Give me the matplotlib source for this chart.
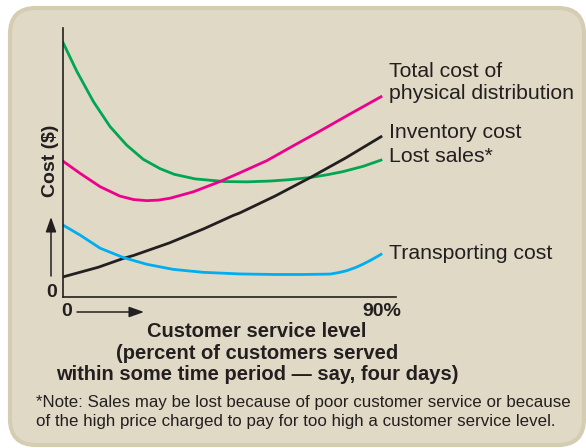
import matplotlib
matplotlib.use('Agg')
import matplotlib.pyplot as plt
from matplotlib.patches import FancyBboxPatch, FancyArrowPatch

plt.rcParams['font.family'] = ['Liberation Sans', 'DejaVu Sans']

# customer service level (%) and cost values
lost_x = [0, 3.9, 8.6, 13.3, 18.0, 22.7, 27.5, 31.5, 37.4, 45.8, 52, 58.6, 64, 69.9, 75, 79.2, 85, 90]
lost_y = [94.6, 83.9, 72.6, 63.3, 56.4, 51.1, 47.6, 45.5, 43.8, 42.8, 42.7, 43.0, 43.5, 44.3, 45.4, 46.5, 48.5, 50.8]

total_x = [0, 4.8, 10.5, 16.1, 20, 23.7, 27, 30.3, 36.9, 44.4, 50.1, 57.7, 65, 72.7, 81, 90]
total_y = [50.4, 45.9, 40.9, 37.4, 36.1, 35.7, 35.9, 36.6, 39.0, 42.8, 46.1, 50.6, 56.0, 61.6, 67.8, 74.4]

inv_x = [0, 10, 17.1, 20, 30, 40, 48.2, 50, 60, 70, 80, 90]
inv_y = [7.3, 10.9, 14.2, 15.3, 19.9, 25.3, 30.2, 31.1, 37.4, 44.3, 51.6, 59.5]

trans_x = [0, 4.8, 10.5, 17.1, 23.7, 31.2, 39.7, 50.1, 60, 68, 75.6, 78, 80.3, 83, 85, 87.5, 90]
trans_y = [26.6, 22.9, 18.0, 14.5, 12.0, 10.1, 9.0, 8.4, 8.2, 8.2, 8.35, 8.9, 9.6, 10.9, 12.1, 13.8, 15.7]

fig = plt.figure(figsize=(5.86, 4.48), dpi=100)
W, H = 586, 448

panel = FancyBboxPatch((0.10, 0.03), 5.74, 4.37,
                       boxstyle='round,pad=0,rounding_size=0.26',
                       transform=fig.dpi_scale_trans,
                       facecolor='#e0d9c6', edgecolor='#d5cdb3',
                       linewidth=3.0, zorder=-10)
fig.patches.append(panel)

ax = fig.add_axes([63 / W, 1 - 296.5 / H, 333 / W, 268.5 / H])
ax.patch.set_visible(False)

lw = 2.0
ax.plot(lost_x, lost_y, color='#00a651', lw=lw, solid_joinstyle='round')
ax.plot(total_x, total_y, color='#ec008c', lw=lw, solid_joinstyle='round')
ax.plot(inv_x, inv_y, color='#231f20', lw=lw, solid_joinstyle='round')
ax.plot(trans_x, trans_y, color='#00aeef', lw=lw, solid_joinstyle='round')

ax.set_xlim(0, 94.25)
ax.set_ylim(0, 100)
ax.set_xticks([])
ax.set_yticks([])
for s in ['top', 'right']:
    ax.spines[s].set_visible(False)
for s in ['left', 'bottom']:
    ax.spines[s].set_color('#231f20')
    ax.spines[s].set_linewidth(1.2)

txt = '#231f20'


def ftext(px, py, s, **kw):
    fig.text(px / W, 1 - py / H, s, color=txt, **kw)


# curve labels
lab = 15.3
ftext(389, 77, 'Total cost of', fontsize=lab, va='baseline')
ftext(389, 99, 'physical distribution', fontsize=lab, va='baseline')
ftext(389, 138, 'Inventory cost', fontsize=lab, va='baseline')
ftext(389, 162, 'Lost sales*', fontsize=lab, va='baseline')
ftext(389, 259, 'Transporting cost', fontsize=lab, va='baseline')

# axis titles
ftext(50, 161, 'Cost ($)', fontsize=14, fontweight='bold', rotation=90,
      ha='center', va='center')
ftext(257, 337, 'Customer service level', fontsize=14.5, fontweight='bold',
      ha='center', va='baseline')
ftext(257, 359, '(percent of customers served', fontsize=14.5, fontweight='bold',
      ha='center', va='baseline')
ftext(257, 380, 'within some time period \u2014 say, four days)', fontsize=14.5,
      fontweight='bold', ha='center', va='baseline')

# zero / 90% marks
ftext(52, 292, '0', fontsize=14, fontweight='bold', ha='center', va='center')
ftext(67, 311, '0', fontsize=14, fontweight='bold', ha='center', va='center')
ftext(381.5, 311, '90%', fontsize=14, fontweight='bold', ha='center', va='center')

# small arrows
fig.add_artist(FancyArrowPatch(
    (77 / W, 1 - 312 / H), (144 / W, 1 - 312 / H), transform=fig.transFigure,
    arrowstyle='-|>,head_length=9,head_width=3.2', mutation_scale=1,
    color=txt, lw=1.1, shrinkA=0, shrinkB=0))
fig.add_artist(FancyArrowPatch(
    (51 / W, 1 - 276 / H), (51 / W, 1 - 217 / H), transform=fig.transFigure,
    arrowstyle='-|>,head_length=9,head_width=3.2', mutation_scale=1,
    color=txt, lw=1.1, shrinkA=0, shrinkB=0))

# footnote
ftext(36, 407, '*Note: Sales may be lost because of poor customer service or because',
      fontsize=12.2, va='baseline')
ftext(36, 426, 'of the high price charged to pay for too high a customer service level.',
      fontsize=12.2, va='baseline')

fig.savefig('out.png', dpi=100)
